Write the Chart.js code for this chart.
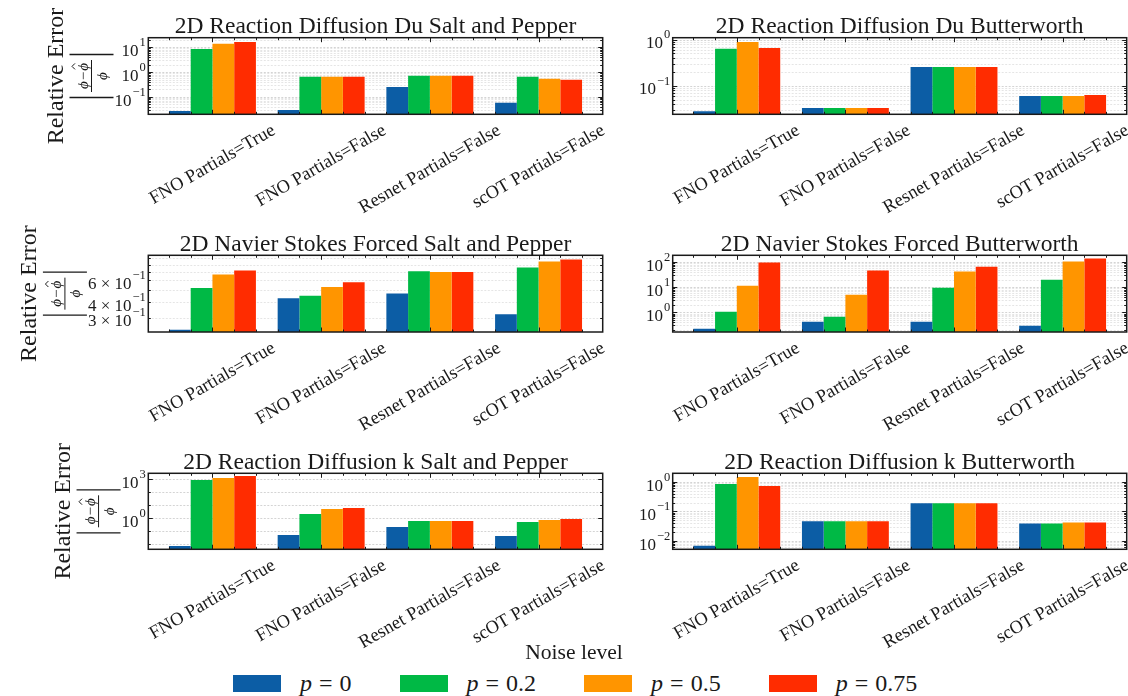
<!DOCTYPE html>
<html>
<head>
<meta charset="utf-8">
<script src="https://cdn.jsdelivr.net/npm/chart.js@4/dist/chart.umd.min.js"></script>
<style>
  body { margin: 0; background: #fff; width: 1128px; height: 696px; position: relative; overflow: hidden;
         font-family: "Liberation Serif", "Times New Roman", serif; color: #1a1a1a; }
  canvas { position: absolute; }
  #noise { position: absolute; left: 474px; width: 200px; top: 641px; text-align: center; font-size: 21.6px; line-height: 22px; }
  #legend { position: absolute; left: 233px; top: 672px; display: flex; align-items: center; font-size: 24px; line-height: 23px; white-space: nowrap; }
  .item { display: flex; align-items: center; margin-right: 48px; }
  .box { width: 48px; height: 17px; margin-right: 19px; }
  .eq { margin: 0 7px; }
</style>
</head>
<body>
<canvas id="c0"></canvas><canvas id="c1"></canvas>
<canvas id="c2"></canvas><canvas id="c3"></canvas>
<canvas id="c4"></canvas><canvas id="c5"></canvas>
<div id="noise">Noise level</div>
<div id="legend"></div>
<script>
const categories = ['FNO Partials=True', 'FNO Partials=False', 'Resnet Partials=False', 'scOT Partials=False']
const noiseLevels = ['0', '0.2', '0.5', '0.75']
const barColors = ['#0C5DA5', '#00B945', '#FF9500', '#FF2C00']

// rows: p = 0, 0.2, 0.5, 0.75 ; columns: categories
const rdDuSaltPepper = [
  [0.027, 0.030, 0.25, 0.059],
  [8.5, 0.65, 0.71, 0.65],
  [14, 0.65, 0.71, 0.54],
  [16.3, 0.65, 0.71, 0.49]
]
const rdDuButterworth = [
  [0.028, 0.033, 0.255, 0.060],
  [0.63, 0.033, 0.255, 0.060],
  [0.89, 0.033, 0.255, 0.060],
  [0.66, 0.033, 0.255, 0.063]
]
const nsSaltPepper = [
  [0.24, 0.43, 0.47, 0.32],
  [0.52, 0.45, 0.71, 0.76],
  [0.67, 0.53, 0.70, 0.85],
  [0.72, 0.58, 0.70, 0.885]
]
const nsButterworth = [
  [0.22, 0.42, 0.42, 0.29],
  [1.07, 0.67, 9.7, 20],
  [11.7, 5.1, 43, 107],
  [97, 47, 67, 141]
]
const rdKSaltPepper = [
  [0.0074, 0.052, 0.21, 0.044],
  [890, 2.1, 0.62, 0.52],
  [1260, 5.2, 0.62, 0.74],
  [1780, 6.2, 0.62, 0.88]
]
const rdKButterworth = [
  [0.0068, 0.046, 0.19, 0.039],
  [0.85, 0.046, 0.19, 0.039],
  [1.48, 0.046, 0.19, 0.042],
  [0.73, 0.046, 0.19, 0.042]
]

// y tick labels per panel
const yTicksRdDuSP = [0.1, 1, 10]
const yTicksRdDuBW = [0.1, 1]
const yTicksNsSP = [0.3, 0.4, 0.6]
const yTicksNsBW = [1, 10, 100]
const yTicksRdKSP = [1, 1000]
const yTicksRdKBW = [0.01, 0.1, 1]

const panels = [
  { title: '2D Reaction Diffusion Du Salt and Pepper', values: rdDuSaltPepper, yMin: 0.020, yMax: 24.3, yTicks: yTicksRdDuSP },
  { title: '2D Reaction Diffusion Du Butterworth', values: rdDuButterworth, yMin: 0.024, yMax: 1.10, yTicks: yTicksRdDuBW },
  { title: '2D Navier Stokes Forced Salt and Pepper', values: nsSaltPepper, yMin: 0.230, yMax: 0.955, yTicks: yTicksNsSP },
  { title: '2D Navier Stokes Forced Butterworth', values: nsButterworth, yMin: 0.165, yMax: 190, yTicks: yTicksNsBW },
  { title: '2D Reaction Diffusion k Salt and Pepper', values: rdKSaltPepper, yMin: 0.0041, yMax: 2900, yTicks: yTicksRdKSP, decadesOnly: true },
  { title: '2D Reaction Diffusion k Butterworth', values: rdKButterworth, yMin: 0.0052, yMax: 1.96, yTicks: yTicksRdKBW }
]

// page layout of the 3x2 grid
const cols = [
  { left: 0, width: 620, areaLeft: 148.3, areaRight: 602.7 },
  { left: 620, width: 508, areaLeft: 52.7, areaRight: 506.7 }
]
const rows = [
  { top: 0, height: 215, areaTop: 37.7, areaBottom: 114.3 },
  { top: 215, height: 220, areaTop: 40.3, areaBottom: 117 },
  { top: 435, height: 222, areaTop: 38.3, areaBottom: 114.3 }
]

const SERIF = '"Liberation Serif", "Times New Roman", serif'
const INK = '#1a1a1a'

function logTicks(min, max, decadesOnly) {
  const out = []
  for (let e = Math.floor(Math.log10(min)); e <= Math.ceil(Math.log10(max)); e++) {
    const subs = decadesOnly ? [1] : [1, 2, 3, 4, 5, 6, 7, 8, 9]
    subs.forEach(m => {
      const v = +(m * Math.pow(10, e)).toPrecision(4)
      if (v >= min && v <= max) out.push({ value: v })
    })
  }
  return out
}

function sciParts(v) {
  const e = Math.floor(Math.log10(v) + 1e-9)
  const m = Math.round(v / Math.pow(10, e))
  return { base: m === 1 ? '10' : m + ' \u00d7 10', exp: (e < 0 ? '\u2212' : '') + Math.abs(e) }
}

function isDecade(v) {
  const l = Math.log10(v)
  return Math.abs(l - Math.round(l)) < 1e-6
}

// draws a y tick label right aligned at xRight, returns its width
function drawYTickLabel(ctx, v, xRight, py) {
  const parts = sciParts(v)
  ctx.font = '12.5px ' + SERIF
  const we = ctx.measureText(parts.exp).width
  ctx.font = '17px ' + SERIF
  const wb = ctx.measureText(parts.base).width
  ctx.textAlign = 'left'
  ctx.textBaseline = 'alphabetic'
  ctx.fillText(parts.base, xRight - we - 1 - wb, py + 8.6)
  ctx.font = '12.5px ' + SERIF
  ctx.fillText(parts.exp, xRight - we, py - 1.2)
  return wb + 1 + we
}

function drawYTitle(ctx, a, labelsLeft) {
  const cy = (a.top + a.bottom) / 2
  const fracRight = labelsLeft - 1
  const fracLeft = fracRight - 44
  // "Relative Error"
  ctx.save()
  ctx.translate(fracLeft - 7, cy)
  ctx.rotate(-Math.PI / 2)
  ctx.font = '24px ' + SERIF
  ctx.textAlign = 'center'
  ctx.textBaseline = 'alphabetic'
  ctx.fillText('Relative Error', 0, 0)
  ctx.restore()
  // |(phi - phi_hat) / phi|
  ctx.save()
  ctx.translate(fracLeft + 22, cy)
  ctx.rotate(-Math.PI / 2)
  ctx.strokeStyle = INK
  ctx.lineWidth = 1.3
  ctx.beginPath()
  ctx.moveTo(-21.5, -22); ctx.lineTo(-21.5, 22)
  ctx.moveTo(21.5, -22); ctx.lineTo(21.5, 22)
  ctx.stroke()
  ctx.lineWidth = 1
  ctx.beginPath()
  ctx.moveTo(-16, 0); ctx.lineTo(16, 0)
  ctx.stroke()
  const fs = 15
  ctx.font = 'italic ' + fs + 'px ' + SERIF
  ctx.textBaseline = 'alphabetic'
  ctx.textAlign = 'left'
  const wPhi = ctx.measureText('\u03d5').width
  ctx.font = fs + 'px ' + SERIF
  const wMinus = ctx.measureText('\u2212').width
  const total = wPhi * 2 + wMinus + 2
  const x0 = -total / 2
  ctx.font = 'italic ' + fs + 'px ' + SERIF
  ctx.fillText('\u03d5', x0, -4)
  ctx.font = fs + 'px ' + SERIF
  ctx.fillText('\u2212', x0 + wPhi + 1, -4)
  ctx.font = 'italic ' + fs + 'px ' + SERIF
  const xHat = x0 + wPhi + wMinus + 2
  ctx.fillText('\u03d5', xHat, -4)
  const hc = xHat + wPhi / 2 + 0.5
  ctx.beginPath()
  ctx.moveTo(hc - 3, -16.5); ctx.lineTo(hc, -19.5); ctx.lineTo(hc + 3, -16.5)
  ctx.stroke()
  ctx.textAlign = 'center'
  ctx.fillText('\u03d5', 0, 15)
  ctx.restore()
}

const decor = {
  id: 'panelDecor',
  beforeDatasetsDraw(chart, args, opts) {
    const ctx = chart.ctx, a = chart.chartArea, y = chart.scales.y
    ctx.save()
    ctx.lineWidth = 1
    ctx.setLineDash([2, 1.5])
    y.ticks.forEach(t => {
      const py = Math.round(y.getPixelForValue(t.value)) + 0.5
      ctx.strokeStyle = isDecade(t.value) ? 'rgba(0,0,0,0.17)' : 'rgba(0,0,0,0.10)'
      ctx.beginPath()
      ctx.moveTo(a.left, py); ctx.lineTo(a.right, py)
      ctx.stroke()
    })
    ctx.restore()
  },
  afterDatasetsDraw(chart, args, opts) {
    const idx = opts.idx
    const p = panels[idx]
    const ctx = chart.ctx, a = chart.chartArea, x = chart.scales.x, y = chart.scales.y
    ctx.save()
    ctx.strokeStyle = INK
    ctx.fillStyle = INK
    // inward ticks
    ctx.lineWidth = 1
    ctx.beginPath()
    y.ticks.forEach(t => {
      const py = Math.round(y.getPixelForValue(t.value)) + 0.5
      const len = (isDecade(t.value) && p.yTicks.includes(t.value)) ? 4.5 : 2.5
      ctx.moveTo(a.left, py); ctx.lineTo(a.left + len, py)
      ctx.moveTo(a.right, py); ctx.lineTo(a.right - len, py)
    })
    for (let j = 0; j <= 19; j++) {
      const v = -0.4 + 0.2 * j
      const major = Math.abs(v - Math.round(v)) < 1e-6
      const len = major ? 4.5 : 2.5
      const px = Math.round(x.getPixelForValue(v)) + 0.5
      ctx.moveTo(px, a.top); ctx.lineTo(px, a.top + len)
      ctx.moveTo(px, a.bottom); ctx.lineTo(px, a.bottom - len)
    }
    ctx.stroke()
    // frame
    ctx.lineWidth = 1.5
    ctx.strokeRect(a.left, a.top, a.right - a.left, a.bottom - a.top)
    // title
    ctx.font = '23.5px ' + SERIF
    ctx.textAlign = 'center'
    ctx.textBaseline = 'alphabetic'
    ctx.fillText(p.title, (a.left + a.right) / 2, a.top - 4.5)
    // y tick labels
    let maxW = 0
    p.yTicks.forEach(v => {
      const w = drawYTickLabel(ctx, v, a.left - 2.5, y.getPixelForValue(v))
      maxW = Math.max(maxW, w)
    })
    // rotated category labels
    ctx.font = '18.5px ' + SERIF
    categories.forEach((c, i) => {
      const w = ctx.measureText(c).width
      const h = 16
      const H = w * 0.5 + h * Math.cos(Math.PI / 6)
      const cx = x.getPixelForValue(i)
      const cy = a.bottom + 8 + H / 2
      ctx.save()
      ctx.translate(cx, cy)
      ctx.rotate(-Math.PI / 6)
      ctx.textAlign = 'center'
      ctx.textBaseline = 'middle'
      ctx.fillText(c, 0, 0)
      ctx.restore()
    })
    // y axis title on the left column
    if (idx % 2 === 0) drawYTitle(ctx, a, a.left - 2.5 - maxW)
    ctx.restore()
  }
}

panels.forEach((p, idx) => {
  const col = cols[idx % 2], row = rows[Math.floor(idx / 2)]
  const canvas = document.getElementById('c' + idx)
  canvas.width = col.width
  canvas.height = row.height
  canvas.style.left = col.left + 'px'
  canvas.style.top = row.top + 'px'
  new Chart(canvas, {
    type: 'bar',
    data: {
      datasets: p.values.map((vals, k) => ({
        label: 'p = ' + noiseLevels[k],
        data: vals.map((v, i) => ({ x: i, y: v })),
        backgroundColor: barColors[k],
        borderWidth: 0,
        categoryPercentage: 0.8,
        barPercentage: 1.0
      }))
    },
    options: {
      responsive: false,
      animation: false,
      devicePixelRatio: 1,
      layout: { padding: { top: row.areaTop, right: col.width - col.areaRight, bottom: 0, left: 0 } },
      plugins: {
        legend: { display: false },
        title: { display: false },
        tooltip: { enabled: false },
        panelDecor: { idx: idx }
      },
      scales: {
        x: {
          type: 'linear', min: -0.59, max: 3.59, bounds: 'data', offset: false,
          grid: { display: false, offset: false }, border: { display: false }, ticks: { display: false },
          afterBuildTicks: s => { s.ticks = categories.map((c, i) => ({ value: i })) },
          afterFit: s => { s.height = row.height - row.areaBottom }
        },
        y: {
          type: 'logarithmic', min: p.yMin, max: p.yMax, bounds: 'data',
          grid: { display: false }, border: { display: false }, ticks: { display: false },
          afterBuildTicks: s => { s.ticks = logTicks(p.yMin, p.yMax, p.decadesOnly) },
          afterFit: s => { s.width = col.areaLeft }
        }
      }
    },
    plugins: [decor]
  })
})

// legend
const legend = document.getElementById('legend')
noiseLevels.forEach((lv, k) => {
  const item = document.createElement('div')
  item.className = 'item'
  item.innerHTML = '<div class="box" style="background:' + barColors[k] + '"></div>' +
    '<span><i>p</i><span class="eq">=</span>' + lv + '</span>'
  legend.appendChild(item)
})
</script>
</body>
</html>
